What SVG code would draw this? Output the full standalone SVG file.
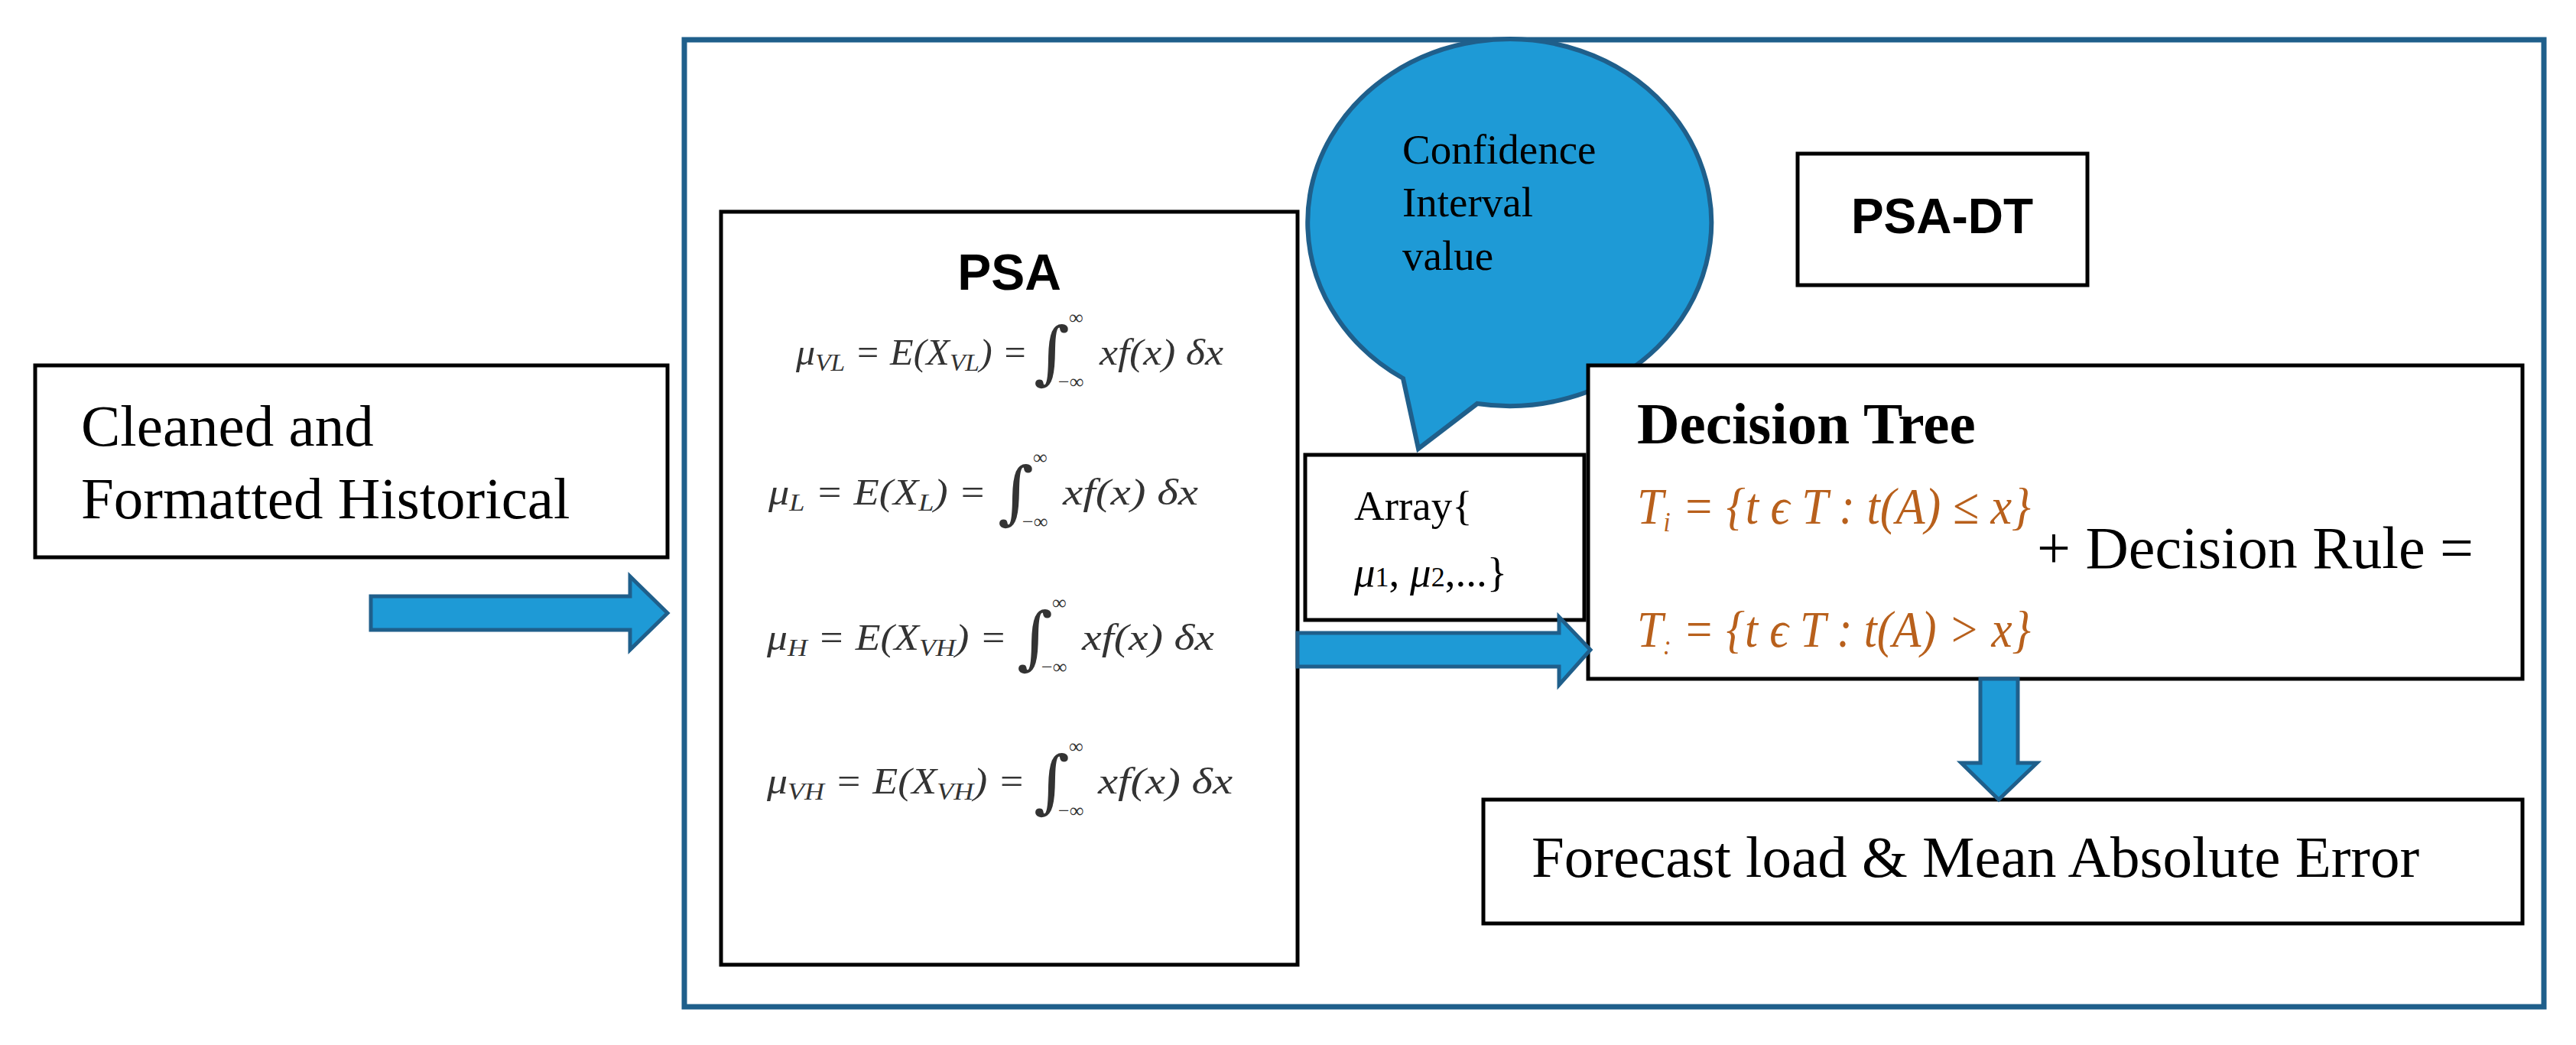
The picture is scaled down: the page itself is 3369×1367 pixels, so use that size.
<svg xmlns="http://www.w3.org/2000/svg" width="3369" height="1367" viewBox="0 0 3369 1367">
<style>
.box{fill:#fff;stroke:#000;stroke-width:5}
.arr{fill:#1e9ad6;stroke:#1f5f8b;stroke-width:5}
.ser{font-family:"Liberation Serif",serif;fill:#000}
.eq{font-family:"Liberation Serif",serif;font-style:italic;font-size:48px;fill:#333}
.lim{font-family:"Liberation Serif",serif;font-size:26px;fill:#333}
.int{font-family:"DejaVu Serif",serif;font-size:90px;fill:#333}
.tf{font-family:"Liberation Serif",serif;font-style:italic;font-size:68px;fill:#b8601c}
</style>
<rect x="0" y="0" width="3369" height="1367" fill="#fff"/>
<g id="frame"><rect x="895" y="52" width="2432" height="1265" fill="none" stroke="#1f5f8b" stroke-width="7"/></g>
<g id="cleaned">
<rect class="box" x="46" y="478" width="827" height="251"/>
<text class="ser" font-size="77" x="106" y="583">Cleaned and</text>
<text class="ser" font-size="77" x="106" y="678">Formatted Historical</text>
</g>
<g id="psa">
<rect class="box" x="943" y="277" width="754" height="985"/>
<text x="1320" y="379" text-anchor="middle" font-family="Liberation Sans,sans-serif" font-weight="bold" font-size="66">PSA</text>
<g>
<text class="eq" x="1041" y="477" textLength="303" lengthAdjust="spacingAndGlyphs">μ<tspan font-size="32" dy="8">VL</tspan><tspan dy="-8"> = E(X</tspan><tspan font-size="32" dy="8">VL</tspan><tspan dy="-8">) =</tspan></text>
<text class="int" x="1352" y="492">∫</text><text class="lim" x="1398" y="424">∞</text><text class="lim" x="1384" y="508">−∞</text>
<text class="eq" x="1438" y="477" textLength="162" lengthAdjust="spacingAndGlyphs">xf(x) δx</text>
</g>
<g>
<text class="eq" x="1005" y="660" textLength="285" lengthAdjust="spacingAndGlyphs">μ<tspan font-size="32" dy="8">L</tspan><tspan dy="-8"> = E(X</tspan><tspan font-size="32" dy="8">L</tspan><tspan dy="-8">) =</tspan></text>
<text class="int" x="1305" y="675">∫</text><text class="lim" x="1351" y="607">∞</text><text class="lim" x="1337" y="691">−∞</text>
<text class="eq" x="1390" y="660" textLength="177" lengthAdjust="spacingAndGlyphs">xf(x) δx</text>
</g>
<g>
<text class="eq" x="1003" y="850" textLength="314" lengthAdjust="spacingAndGlyphs">μ<tspan font-size="32" dy="8">H</tspan><tspan dy="-8"> = E(X</tspan><tspan font-size="32" dy="8">VH</tspan><tspan dy="-8">) =</tspan></text>
<text class="int" x="1330" y="865">∫</text><text class="lim" x="1376" y="797">∞</text><text class="lim" x="1362" y="881">−∞</text>
<text class="eq" x="1415" y="850" textLength="173" lengthAdjust="spacingAndGlyphs">xf(x) δx</text>
</g>
<g>
<text class="eq" x="1003" y="1038" textLength="338" lengthAdjust="spacingAndGlyphs">μ<tspan font-size="32" dy="8">VH</tspan><tspan dy="-8"> = E(X</tspan><tspan font-size="32" dy="8">VH</tspan><tspan dy="-8">) =</tspan></text>
<text class="int" x="1352" y="1053">∫</text><text class="lim" x="1398" y="985">∞</text><text class="lim" x="1384" y="1069">−∞</text>
<text class="eq" x="1436" y="1038" textLength="176" lengthAdjust="spacingAndGlyphs">xf(x) δx</text>
</g>
</g>
<g id="bubble">
<path d="M1835,495 A264,240 0 1 1 1932,528 L1855,587 Z" fill="#1e9ad6" stroke="#1f5f8b" stroke-width="6"/>
<text class="ser" font-size="55" x="1834" y="214">Confidence</text>
<text class="ser" font-size="55" x="1834" y="283">Interval</text>
<text class="ser" font-size="55" x="1834" y="353">value</text>
</g>
<g id="psadt">
<rect class="box" x="2351" y="201" width="379" height="172"/>
<text x="2540" y="305" text-anchor="middle" font-family="Liberation Sans,sans-serif" font-weight="bold" font-size="64">PSA-DT</text>
</g>
<g id="array">
<rect class="box" x="1707" y="595" width="365" height="216"/>
<text class="ser" font-size="55" x="1771" y="680">Array{</text>
<text class="ser" font-size="55" x="1771" y="767"><tspan font-style="italic">μ</tspan><tspan font-size="36">1</tspan>, <tspan font-style="italic">μ</tspan><tspan font-size="36">2</tspan>,...}</text>
</g>
<g id="decision">
<rect class="box" x="2077" y="478" width="1222" height="410"/>
<text class="ser" font-size="77" font-weight="bold" x="2141" y="580">Decision Tree</text>
<text class="tf" x="2141" y="685" textLength="515" lengthAdjust="spacingAndGlyphs">T<tspan font-size="36" dy="10">i</tspan><tspan dy="-10"> = {t ϵ T : t(A) ≤ x}</tspan></text>
<text class="ser" font-size="78" x="2664" y="743">+ Decision Rule =</text>
<text class="tf" x="2141" y="846" textLength="515" lengthAdjust="spacingAndGlyphs">T<tspan font-size="36" dy="10">:</tspan><tspan dy="-10"> = {t ϵ T : t(A) &gt; x}</tspan></text>
</g>
<g id="forecast">
<rect class="box" x="1940" y="1046" width="1359" height="162"/>
<text class="ser" font-size="77" x="2003" y="1147">Forecast load &amp; Mean Absolute Error</text>
</g>
<g id="connectors">
<path class="arr" d="M485,780 L824,780 L824,754 L873,802 L824,850 L824,824 L485,824 Z"/>
<path class="arr" d="M1697,828 L2039,828 L2039,807 L2080,850 L2039,896 L2039,872 L1697,872 Z"/>
<path class="arr" d="M2590,888 L2639,888 L2639,998 L2664,998 L2614,1046 L2565,998 L2590,998 Z"/>
</g>
</svg>
